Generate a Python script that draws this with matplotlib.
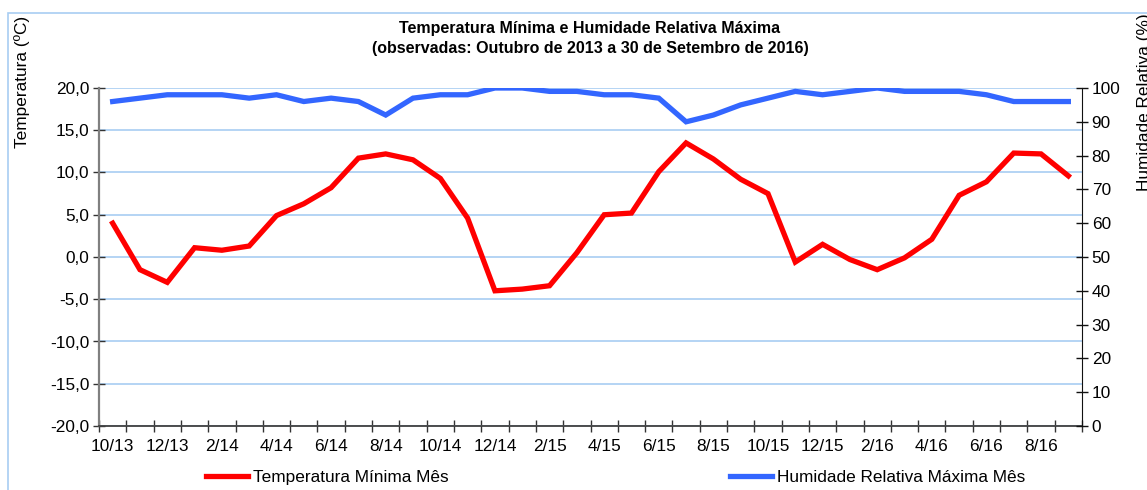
import matplotlib.pyplot as plt
import matplotlib.patches as patches
from matplotlib.ticker import FuncFormatter, FixedLocator
import numpy as np

plt.rcParams['font.family'] = ['Liberation Sans', 'DejaVu Sans']

# meses de 10/13 a 9/16
meses = ["10/13", "11/13", "12/13", "1/14", "2/14", "3/14", "4/14", "5/14", "6/14", "7/14",
         "8/14", "9/14", "10/14", "11/14", "12/14", "1/15", "2/15", "3/15", "4/15", "5/15",
         "6/15", "7/15", "8/15", "9/15", "10/15", "11/15", "12/15", "1/16", "2/16", "3/16",
         "4/16", "5/16", "6/16", "7/16", "8/16", "9/16"]

temp_min = [4.0, -1.5, -3.0, 1.1, 0.8, 1.3, 4.9, 6.3, 8.2, 11.7,
            12.2, 11.5, 9.3, 4.6, -4.0, -3.8, -3.4, 0.5, 5.0, 5.2,
            10.1, 13.5, 11.6, 9.2, 7.5, -0.6, 1.5, -0.3, -1.5, -0.1,
            2.1, 7.3, 8.9, 12.3, 12.2, 9.6]

hum_max = [96, 97, 98, 98, 98, 97, 98, 96, 97, 96,
           92, 97, 98, 98, 100, 100, 99, 99, 98, 98,
           97, 90, 92, 95, 97, 99, 98, 99, 100, 99,
           99, 99, 98, 96, 96, 96]

cor_grid = '#a8cdf2'
fs = 12.4
x = np.arange(len(meses))

fig = plt.figure(figsize=(11.47, 4.9), dpi=100)
ax = fig.add_axes([99 / 1147, 1 - 426 / 490, (1082 - 99) / 1147, (426 - 88) / 490])
ax2 = ax.twinx()

ax.plot(x, temp_min, color='#ff0000', lw=3.8, solid_joinstyle='miter', zorder=3,
        label='Temperatura Mínima Mês')
ax2.plot(x, hum_max, color='#3366ff', lw=3.8, solid_joinstyle='miter', zorder=3,
         label='Humidade Relativa Máxima Mês')

ax.set_xlim(-0.5, len(meses) - 0.5)
ax.set_ylim(-20, 20)
ax2.set_ylim(0, 100)
ax.set_yticks(np.arange(-20, 21, 5))
ax2.set_yticks(np.arange(0, 101, 10))
ax.yaxis.set_major_formatter(FuncFormatter(lambda v, p: f"{v:.1f}".replace('.', ',')))

# marcas entre categorias, rótulos de 2 em 2 meses
ax.xaxis.set_major_locator(FixedLocator(np.arange(-0.5, len(meses), 1)))
ax.xaxis.set_major_formatter(FuncFormatter(lambda v, p: ''))
ax.xaxis.set_minor_locator(FixedLocator(x[::2]))
ax.set_xticklabels(meses[::2], minor=True)
ax.tick_params(axis='x', which='major', direction='inout', length=8, width=1, color='#333333')
ax.tick_params(axis='x', which='minor', length=0, labelsize=fs, pad=9)
ax.tick_params(axis='y', direction='inout', length=8, width=1, color='#333333', labelsize=fs, pad=3)
ax2.tick_params(axis='y', direction='inout', length=8, width=1, color='#111111', labelsize=fs, pad=3)

ax.grid(axis='y', color=cor_grid, lw=1.2)
ax.set_axisbelow(True)
for s in ['top', 'right']:
    ax.spines[s].set_visible(False)
for s in ['top', 'left', 'bottom']:
    ax2.spines[s].set_visible(False)
ax.spines['left'].set_color('#808080')
ax.spines['left'].set_linewidth(1.6)
ax.spines['bottom'].set_color('#404040')
ax.spines['bottom'].set_linewidth(1.3)
ax2.spines['right'].set_color('#111111')

fig.text(590 / 1147, 1 - 28 / 490, 'Temperatura Mínima e Humidade Relativa Máxima',
         ha='center', va='center', fontsize=11.5, fontweight='bold')
fig.text(590 / 1147, 1 - 48 / 490, '(observadas: Outubro de 2013 a 30 de Setembro de 2016)',
         ha='center', va='center', fontsize=11.5, fontweight='bold')
fig.text(22 / 1147, 1 - 82 / 490, 'Temperatura (ºC)', rotation=90, ha='center', va='center', fontsize=fs)
fig.text(1137 / 1147, 1 - 102 / 490, 'Humidade Relativa (%)', rotation=90, ha='left', va='center',
         fontsize=fs)

h1, l1 = ax.get_legend_handles_labels()
h2, l2 = ax2.get_legend_handles_labels()
fig.legend(h1 + h2, l1 + l2, loc='center left', bbox_to_anchor=(206 / 1147, 1 - 477 / 490), ncol=2,
           frameon=False, fontsize=fs, handlelength=2.45, handletextpad=0.3, columnspacing=16.3,
           borderaxespad=0, borderpad=0)

fig.patches.append(patches.Rectangle((8 / 1147, -0.1), 1.2, 1.1 - 13 / 490, transform=fig.transFigure,
                                     fill=False, edgecolor=cor_grid, lw=1.2))

fig.savefig('out.png', dpi=100)
